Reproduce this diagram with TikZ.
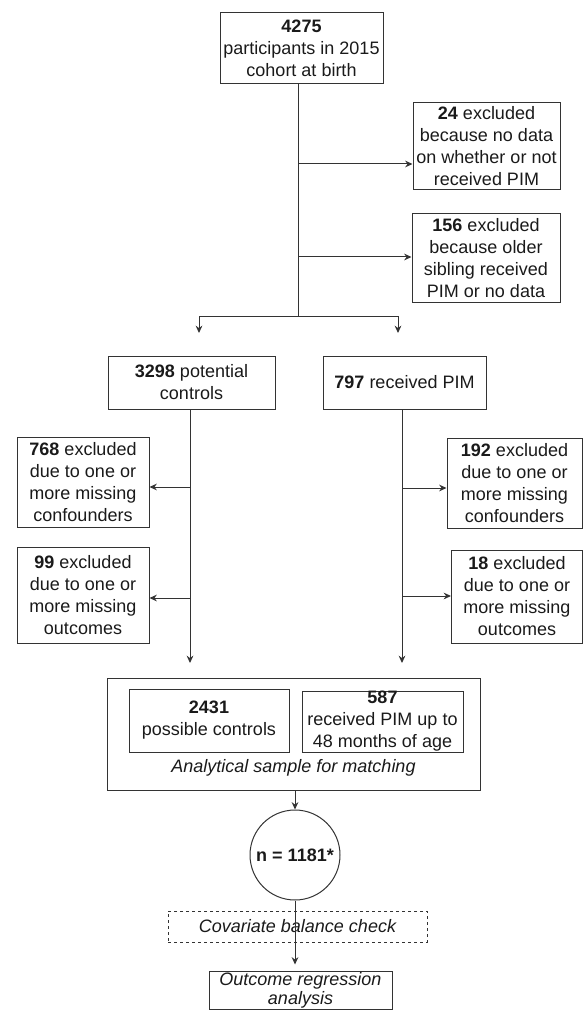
\documentclass[tikz,border=0pt]{standalone}
\usepackage{fontspec}
\setmainfont{Liberation Sans}
\usetikzlibrary{arrows.meta}

\definecolor{strokegray}{HTML}{333333}
\definecolor{inkgray}{HTML}{1A1A1A}

\tikzset{every picture/.style={line width=0.75pt}}

\begin{document}
\begin{tikzpicture}[x=0.75pt,y=0.75pt,yscale=-1,xscale=1,
  every node/.style={text=inkgray, font=\fontsize{13.5}{16.5}\selectfont},
  flowbox/.style 2 args={draw=strokegray, align=center, inner sep=0pt, minimum width=#1*0.75pt, minimum height=#2*0.75pt},
  flowarrow/.style={draw=strokegray, -{Stealth[length=5.5pt,width=5pt]}},
  flowline/.style={draw=strokegray}]
\useasboundingbox (0,0) rectangle (583,1012);

%Shape: Rectangle
\node [flowbox={163}{71}] (cohort) at (301.5,48.5) {\textbf{4275}\\participants in 2015\\cohort at birth};
%Shape: Rectangle
\node [flowbox={147}{87}] (nodata) at (486.5,146.5) {\textbf{24} excluded\\because no data\\on whether or not\\received PIM};
%Shape: Rectangle
\node [flowbox={148}{88}] (sibling) at (486,258) {\textbf{156} excluded\\because older\\sibling received\\PIM or no data};
%Shape: Rectangle
\node [flowbox={167}{53}] (controls) at (191.5,382.5) {\textbf{3298} potential\\controls};
%Shape: Rectangle
\node [flowbox={163}{53}] (pim) at (404.5,382.5) {\textbf{797} received PIM};
%Shape: Rectangle
\node [flowbox={132}{90}] (confctrl) at (83,482) {\textbf{768} excluded\\due to one or\\more missing\\confounders};
%Shape: Rectangle
\node [flowbox={132}{96}] (outctrl) at (83,595) {\textbf{99} excluded\\due to one or\\more missing\\outcomes};
%Shape: Rectangle
\node [flowbox={135}{90}] (confpim) at (514.5,483) {\textbf{192} excluded\\due to one or\\more missing\\confounders};
%Shape: Rectangle
\node [flowbox={131}{93}] (outpim) at (517,596.5) {\textbf{18} excluded\\due to one or\\more missing\\outcomes};
%Shape: Rectangle
\node [flowbox={373}{112}] (sample) at (293.5,734) {};
%Shape: Rectangle
\node [flowbox={160}{63}] (possible) at (209,720.5) {\textbf{2431}\\possible controls};
%Shape: Rectangle
\node [flowbox={161}{61}] (received) at (382.5,721.5) {\textbf{587}\\received PIM up to\\48 months of age};
% Text Node
\node [font=\fontsize{13.5}{16.5}\selectfont\itshape] (samplelabel) at (293.5,768) {Analytical sample for matching};
%Shape: Circle
\node [circle, draw=strokegray, inner sep=0pt, minimum size=67.5pt] (matched) at (295,855) {\textbf{n = 1181*}};
%Shape: Rectangle
\node [flowbox={259}{31}, dash pattern=on 2.5pt off 2pt, font=\fontsize{13.5}{16.5}\selectfont\itshape] (balance) at (297.5,926.5) {Covariate balance check};
%Shape: Rectangle
\node [flowbox={183}{38}, font=\fontsize{13.5}{14.5}\selectfont\itshape] (regression) at (300.5,990) {Outcome regression\\analysis};

% junctions
\coordinate (split) at (298,316);
\coordinate (splitL) at (199,316);
\coordinate (splitR) at (398,316);
\coordinate (tipL) at (199,333);
\coordinate (tipR) at (398,333);
\coordinate (row1) at (298,164);
\coordinate (row2) at (298,257);
\coordinate (downL) at (190,663);
\coordinate (downR) at (402,663);
\coordinate (rowL1) at (190,487);
\coordinate (rowL2) at (190,598);
\coordinate (rowR1) at (402,488);
\coordinate (rowR2) at (402,596);

%Straight Lines
\draw [flowline] (cohort.south -| split) -- (split);
\draw [flowarrow] (row1) -- (row1 -| nodata.west);
\draw [flowarrow] (row2) -- (row2 -| sibling.west);
\draw [flowline] (splitL) -- (splitR);
\draw [flowarrow] (splitL) -- (tipL);
\draw [flowarrow] (splitR) -- (tipR);

%Straight Lines
\draw [flowarrow] (controls.south -| downL) -- (downL);
\draw [flowarrow] (rowL1) -- (rowL1 -| confctrl.east);
\draw [flowarrow] (rowL2) -- (rowL2 -| outctrl.east);
\draw [flowarrow] (pim.south -| downR) -- (downR);
\draw [flowarrow] (rowR1) -- (rowR1 -| confpim.west);
\draw [flowarrow] (rowR2) -- (rowR2 -| outpim.west);

%Straight Lines
\draw [flowarrow] (sample.south -| matched.north) -- (matched.north);
\draw [flowarrow, shorten >=4.5pt] (matched.south) -- (matched.south |- regression.north);

\end{tikzpicture}
\end{document}
